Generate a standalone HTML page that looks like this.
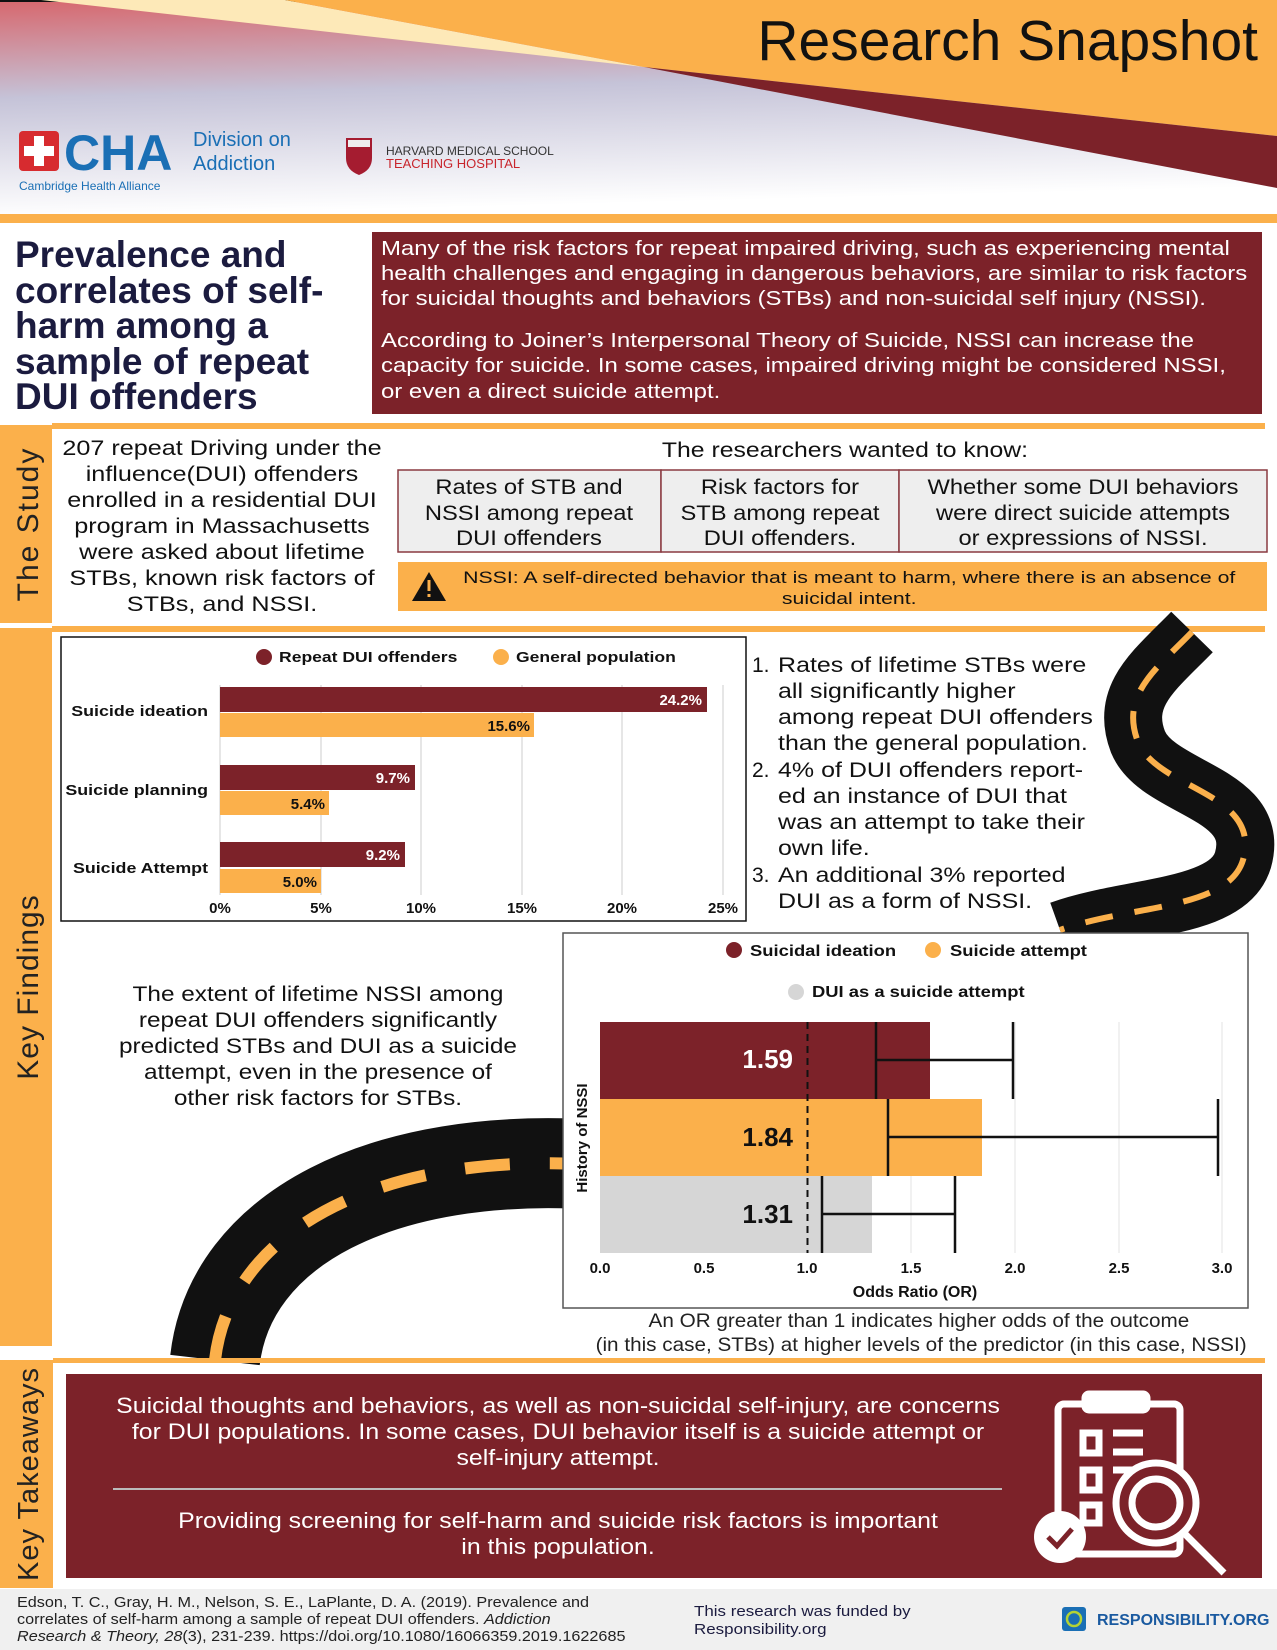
<!DOCTYPE html>
<html><head><meta charset="utf-8"><style>
html,body{margin:0;padding:0;background:#fff}
svg{display:block}
text{font-family:"Liberation Sans",sans-serif}
</style></head><body>
<svg width="1277" height="1650" viewBox="0 0 1277 1650" xmlns="http://www.w3.org/2000/svg">
<defs>
<linearGradient id="hg" x1="0" y1="0" x2="0.15" y2="1">
<stop offset="0" stop-color="#d7676d"/><stop offset="0.45" stop-color="#c5c3d8"/><stop offset="1" stop-color="#ffffff"/>
</linearGradient>
</defs>
<rect x="0" y="0" width="1277" height="214" fill="url(#hg)"/>
<rect x="0" y="0" width="1277" height="2" fill="#111"/>
<polygon points="41,0 285,0 644,67" fill="#fde9b8"/>
<polygon points="285,0 1277,0 1277,136 644,67" fill="#fbb04b"/>
<polygon points="644,67 1277,136 1277,188" fill="#7c2229"/>
<text x="1258" y="60" text-anchor="end" font-size="57" fill="#111">Research Snapshot</text>
<rect x="19" y="131" width="40" height="40" rx="4" fill="#d72b2f"/>
<rect x="34" y="136" width="10" height="30" fill="#fff"/><rect x="24" y="146" width="30" height="10" fill="#fff"/>
<text x="64" y="170" font-size="50" font-weight="bold" fill="#1a6fb5">CHA</text>
<text x="193" y="146" font-size="20" fill="#1a6fb5">Division on</text>
<text x="193" y="170" font-size="20" fill="#1a6fb5">Addiction</text>
<text x="19" y="190" font-size="12" fill="#1a6fb5">Cambridge Health Alliance</text>
<path d="M346 138 h26 v20 q0 12 -13 17 q-13 -5 -13 -17z" fill="#a51c30"/>
<rect x="348" y="140" width="22" height="7" fill="#eee"/>
<text x="386" y="155" font-size="12" fill="#333">HARVARD MEDICAL SCHOOL</text>
<text x="386" y="168" font-size="13" fill="#c8252c">TEACHING HOSPITAL</text>
<rect x="0" y="214" width="1277" height="9" fill="#fbb04b"/>
<g font-size="37" font-weight="bold" fill="#1b1b3f">
<text x="15" y="267">Prevalence and</text>
<text x="15" y="303">correlates of self-</text>
<text x="15" y="338">harm among a</text>
<text x="15" y="374">sample of repeat</text>
<text x="15" y="409">DUI offenders</text>
</g>
<rect x="372" y="232" width="890" height="182" fill="#7c2229"/>
<g font-size="20.3" fill="#fff" transform="matrix(1.18,0,0,1,-68.6,0)">
<text x="381" y="255">Many of the risk factors for repeat impaired driving, such as experiencing mental</text>
<text x="381" y="280">health challenges and engaging in dangerous behaviors, are similar to risk factors</text>
<text x="381" y="305">for suicidal thoughts and behaviors (STBs) and non-suicidal self injury (NSSI).</text>
<text x="381" y="347">According to Joiner’s Interpersonal Theory of Suicide, NSSI can increase the</text>
<text x="381" y="372">capacity for suicide. In some cases, impaired driving might be considered NSSI,</text>
<text x="381" y="398">or even a direct suicide attempt.</text>
</g>
<rect x="0" y="425" width="52" height="198" fill="#fbb04b"/>
<rect x="52" y="423" width="1213" height="6" fill="#fbb04b"/>
<text transform="translate(38,524) rotate(-90)" text-anchor="middle" font-size="30" fill="#222" letter-spacing="2">The Study</text>
<g font-size="21" fill="#111" text-anchor="middle" transform="matrix(1.2,0,0,1,-44.4,0)">
<text x="222" y="455">207 repeat Driving under the</text>
<text x="222" y="481">influence(DUI) offenders</text>
<text x="222" y="507">enrolled in a residential DUI</text>
<text x="222" y="533">program in Massachusetts</text>
<text x="222" y="559">were asked about lifetime</text>
<text x="222" y="585">STBs, known risk factors of</text>
<text x="222" y="611">STBs, and NSSI.</text>
</g>
<text x="845" y="457" font-size="21" fill="#111" text-anchor="middle" transform="matrix(1.18,0,0,1,-152.1,0)">The researchers wanted to know:</text>
<g fill="#eeeeee" stroke="#8a3a40" stroke-width="1.5">
<rect x="398" y="470" width="263" height="82"/><rect x="661" y="470" width="238" height="82"/><rect x="899" y="470" width="368" height="82"/>
</g>
<g font-size="21" fill="#111" text-anchor="middle">
<g transform="matrix(1.13,0,0,1,-68.8,0)"><text x="529" y="494">Rates of STB and</text><text x="529" y="520">NSSI among repeat</text><text x="529" y="545">DUI offenders</text></g>
<g transform="matrix(1.13,0,0,1,-101.4,0)"><text x="780" y="494">Risk factors for</text><text x="780" y="520">STB among repeat</text><text x="780" y="545">DUI offenders.</text></g>
<g transform="matrix(1.13,0,0,1,-140.8,0)"><text x="1083" y="494">Whether some DUI behaviors</text><text x="1083" y="520">were direct suicide attempts</text><text x="1083" y="545">or expressions of NSSI.</text></g>
</g>
<rect x="398" y="562" width="869" height="49" fill="#fbb04b"/>
<polygon points="429,572 446,601 412,601" fill="#111"/>
<rect x="427.5" y="580" width="3" height="11" fill="#fbb04b"/><rect x="427.5" y="594" width="3" height="3" fill="#fbb04b"/>
<g font-size="17" fill="#111" text-anchor="middle" transform="matrix(1.25,0,0,1,-212,0)">
<text x="849" y="583">NSSI: A self-directed behavior that is meant to harm, where there is an absence of</text>
<text x="849" y="604">suicidal intent.</text>
</g>
<rect x="0" y="628" width="52" height="718" fill="#fbb04b"/>
<rect x="52" y="626" width="1213" height="6" fill="#fbb04b"/>
<text transform="translate(38,987) rotate(-90)" text-anchor="middle" font-size="30" fill="#222" letter-spacing="1">Key Findings</text>
<path d="M1192 632 C1155 670 1120 695 1138 742 C1158 790 1262 792 1243 860 C1228 910 1130 905 1060 930" fill="none" stroke="#111" stroke-width="58"/>
<path d="M1192 632 C1155 670 1120 695 1138 742 C1158 790 1262 792 1243 860 C1228 910 1130 905 1060 930" fill="none" stroke="#fbb04b" stroke-width="6" stroke-dasharray="28 22"/>
<path d="M215 1360 C230 1230 380 1150 600 1165" fill="none" stroke="#111" stroke-width="90"/>
<path d="M215 1360 C230 1230 380 1150 600 1165" fill="none" stroke="#fbb04b" stroke-width="12" stroke-dasharray="45 40"/>
<rect x="61" y="637" width="685" height="284" fill="#fff" stroke="#111" stroke-width="1.5"/>
<g stroke="#dddddd" stroke-width="1.5">
<line x1="321" y1="685" x2="321" y2="895"/><line x1="421" y1="685" x2="421" y2="895"/><line x1="522" y1="685" x2="522" y2="895"/><line x1="622" y1="685" x2="622" y2="895"/><line x1="723" y1="685" x2="723" y2="895"/><line x1="220" y1="685" x2="220" y2="895"/>
</g>
<g fill="#7c2229"><rect x="220" y="687" width="487" height="25"/><rect x="220" y="765" width="195" height="25"/><rect x="220" y="842" width="185" height="25"/></g>
<g fill="#fbb04b"><rect x="220" y="713" width="314" height="24"/><rect x="220" y="791" width="109" height="24"/><rect x="220" y="869" width="101" height="24"/></g>
<g font-size="15" font-weight="bold" text-anchor="end">
<text x="702" y="705" fill="#fff">24.2%</text><text x="530" y="731" fill="#111">15.6%</text>
<text x="410" y="783" fill="#fff">9.7%</text><text x="325" y="809" fill="#111">5.4%</text>
<text x="400" y="860" fill="#fff">9.2%</text><text x="317" y="887" fill="#111">5.0%</text>
<g transform="matrix(1.19,0,0,1,-39.5,0)"><text x="208" y="716" fill="#111">Suicide ideation</text><text x="208" y="795" fill="#111">Suicide planning</text><text x="208" y="873" fill="#111">Suicide Attempt</text></g>
</g>
<g font-size="15" font-weight="bold" text-anchor="middle" fill="#111">
<text x="220" y="913">0%</text><text x="321" y="913">5%</text><text x="421" y="913">10%</text><text x="522" y="913">15%</text><text x="622" y="913">20%</text><text x="723" y="913">25%</text>
</g>
<circle cx="264" cy="657" r="8" fill="#7c2229"/><text x="279" y="662" font-size="15" font-weight="bold" fill="#111" transform="matrix(1.17,0,0,1,-47.4,0)">Repeat DUI offenders</text>
<circle cx="501" cy="657" r="8" fill="#fbb04b"/><text x="516" y="662" font-size="15" font-weight="bold" fill="#111" transform="matrix(1.17,0,0,1,-87.7,0)">General population</text>
<g font-size="21" fill="#111">
<text x="752" y="672">1.</text><text x="752" y="777">2.</text><text x="752" y="882">3.</text>
<g transform="matrix(1.19,0,0,1,-147.8,0)">
<text x="778" y="672">Rates of lifetime STBs were</text>
<text x="778" y="698">all significantly higher</text><text x="778" y="724">among repeat DUI offenders</text><text x="778" y="750">than the general population.</text>
<text x="778" y="777">4% of DUI offenders report-</text>
<text x="778" y="803">ed an instance of DUI that</text><text x="778" y="829">was an attempt to take their</text><text x="778" y="855">own life.</text>
<text x="778" y="882">An additional 3% reported</text><text x="778" y="908">DUI as a form of NSSI.</text>
</g>
</g>
<g font-size="21" fill="#111" text-anchor="middle" transform="matrix(1.16,0,0,1,-50.9,0)">
<text x="318" y="1001">The extent of lifetime NSSI among</text>
<text x="318" y="1027">repeat DUI offenders significantly</text>
<text x="318" y="1053">predicted STBs and DUI as a suicide</text>
<text x="318" y="1079">attempt, even in the presence of</text>
<text x="318" y="1105">other risk factors for STBs.</text>
</g>
<rect x="563" y="933" width="685" height="375" fill="#fff" stroke="#555" stroke-width="1.5"/>
<g stroke="#e3e3e3" stroke-width="1"><line x1="704" y1="1022" x2="704" y2="1253"/><line x1="911" y1="1022" x2="911" y2="1253"/><line x1="1015" y1="1022" x2="1015" y2="1253"/><line x1="1119" y1="1022" x2="1119" y2="1253"/><line x1="1222" y1="1022" x2="1222" y2="1253"/></g>
<rect x="600" y="1022" width="330" height="77" fill="#7c2229"/>
<rect x="600" y="1099" width="382" height="77" fill="#fbb04b"/>
<rect x="600" y="1176" width="272" height="77" fill="#d6d6d6"/>
<line x1="807.5" y1="1022" x2="807.5" y2="1253" stroke="#111" stroke-width="2" stroke-dasharray="7 5"/>
<g stroke="#111" stroke-width="2.5" fill="none">
<path d="M876 1022v77M876 1060H1013M1013 1022v77"/>
<path d="M888 1099v77M888 1137H1218M1218 1099v77"/>
<path d="M822 1176v77M822 1214H955M955 1176v77"/>
</g>
<g font-size="26" font-weight="bold" text-anchor="end">
<text x="793" y="1068" fill="#fff">1.59</text><text x="793" y="1146" fill="#111">1.84</text><text x="793" y="1223" fill="#111">1.31</text>
</g>
<g font-size="15" font-weight="bold" text-anchor="middle" fill="#111">
<text x="600" y="1273">0.0</text><text x="704" y="1273">0.5</text><text x="807" y="1273">1.0</text><text x="911" y="1273">1.5</text><text x="1015" y="1273">2.0</text><text x="1119" y="1273">2.5</text><text x="1222" y="1273">3.0</text>
<text x="915" y="1297" font-size="16">Odds Ratio (OR)</text>
<text transform="translate(587,1138) rotate(-90)" font-size="15">History of NSSI</text>
</g>
<circle cx="734" cy="950" r="8" fill="#7c2229"/><text x="750" y="956" font-size="16" font-weight="bold" fill="#111" transform="matrix(1.15,0,0,1,-112.5,0)">Suicidal ideation</text>
<circle cx="933" cy="950" r="8" fill="#fbb04b"/><text x="950" y="956" font-size="16" font-weight="bold" fill="#111" transform="matrix(1.15,0,0,1,-142.5,0)">Suicide attempt</text>
<circle cx="796" cy="992" r="8" fill="#d6d6d6"/><text x="812" y="997" font-size="16" font-weight="bold" fill="#111" transform="matrix(1.15,0,0,1,-121.8,0)">DUI as a suicide attempt</text>
<g font-size="19" fill="#222" text-anchor="middle" transform="matrix(1.09,0,0,1,-82.8,0)">
<text x="919" y="1327">An OR greater than 1 indicates higher odds of the outcome</text>
<text x="921" y="1351">(in this case, STBs) at higher levels of the predictor (in this case, NSSI)</text>
</g>
<rect x="0" y="1360" width="53" height="228" fill="#fbb04b"/>
<rect x="53" y="1358" width="1212" height="5" fill="#fbb04b"/>
<text transform="translate(38,1474) rotate(-90)" text-anchor="middle" font-size="29" fill="#222" letter-spacing="1">Key Takeaways</text>
<rect x="66" y="1374" width="1196" height="204" fill="#7c2229"/>
<g font-size="22" fill="#fff" text-anchor="middle" transform="matrix(1.13,0,0,1,-72.5,0)">
<text x="558" y="1413">Suicidal thoughts and behaviors, as well as non-suicidal self-injury, are concerns</text>
<text x="558" y="1439">for DUI populations. In some cases, DUI behavior itself is a suicide attempt or</text>
<text x="558" y="1465">self-injury attempt.</text>
<text x="558" y="1528">Providing screening for self-harm and suicide risk factors is important</text>
<text x="558" y="1554">in this population.</text>
</g>
<rect x="113" y="1488" width="889" height="2" fill="#bbbbbb"/>
<g fill="none" stroke="#fff" stroke-width="7">
<rect x="1058" y="1404" width="122" height="150" rx="6"/>
<rect x="1085" y="1394" width="62" height="16" rx="4" fill="#fff"/>
<rect x="1083" y="1433" width="16" height="20"/><rect x="1083" y="1470" width="16" height="20"/><rect x="1083" y="1505" width="16" height="18"/>
<path d="M1113 1433h30M1113 1452h30M1113 1470h20"/>
<circle cx="1156" cy="1503" r="40" fill="#7c2229"/><circle cx="1156" cy="1503" r="24"/>
<path d="M1184 1533l40 40"/>
</g>
<circle cx="1060" cy="1537" r="26" fill="#fff"/>
<path d="M1048 1537l9 9 15-17" fill="none" stroke="#7c2229" stroke-width="5"/>
<rect x="0" y="1589" width="1277" height="61" fill="#f0f0f0"/>
<g font-size="15" fill="#222" transform="matrix(1.08,0,0,1,-1.36,0)">
<text x="17" y="1607">Edson, T. C., Gray, H. M., Nelson, S. E., LaPlante, D. A. (2019). Prevalence and</text>
<text x="17" y="1624">correlates of self-harm among a sample of repeat DUI offenders. <tspan font-style="italic">Addiction</tspan></text>
<text x="17" y="1641"><tspan font-style="italic">Research &amp; Theory, 28</tspan>(3), 231-239. https://doi.org/10.1080/16066359.2019.1622685</text>
</g>
<g font-size="15" fill="#1b1b3f" transform="matrix(1.13,0,0,1,-90.2,0)">
<text x="694" y="1616">This research was funded by</text>
<text x="694" y="1634">Responsibility.org</text>
</g>
<rect x="1062" y="1607" width="24" height="24" rx="3" fill="#1a6fb5"/><circle cx="1074" cy="1619" r="7" fill="none" stroke="#b4d334" stroke-width="2.5"/>
<text x="1097" y="1625" font-size="16" font-weight="bold" fill="#1a5aa0">RESPONSIBILITY.ORG</text>
</svg>
</body></html>
